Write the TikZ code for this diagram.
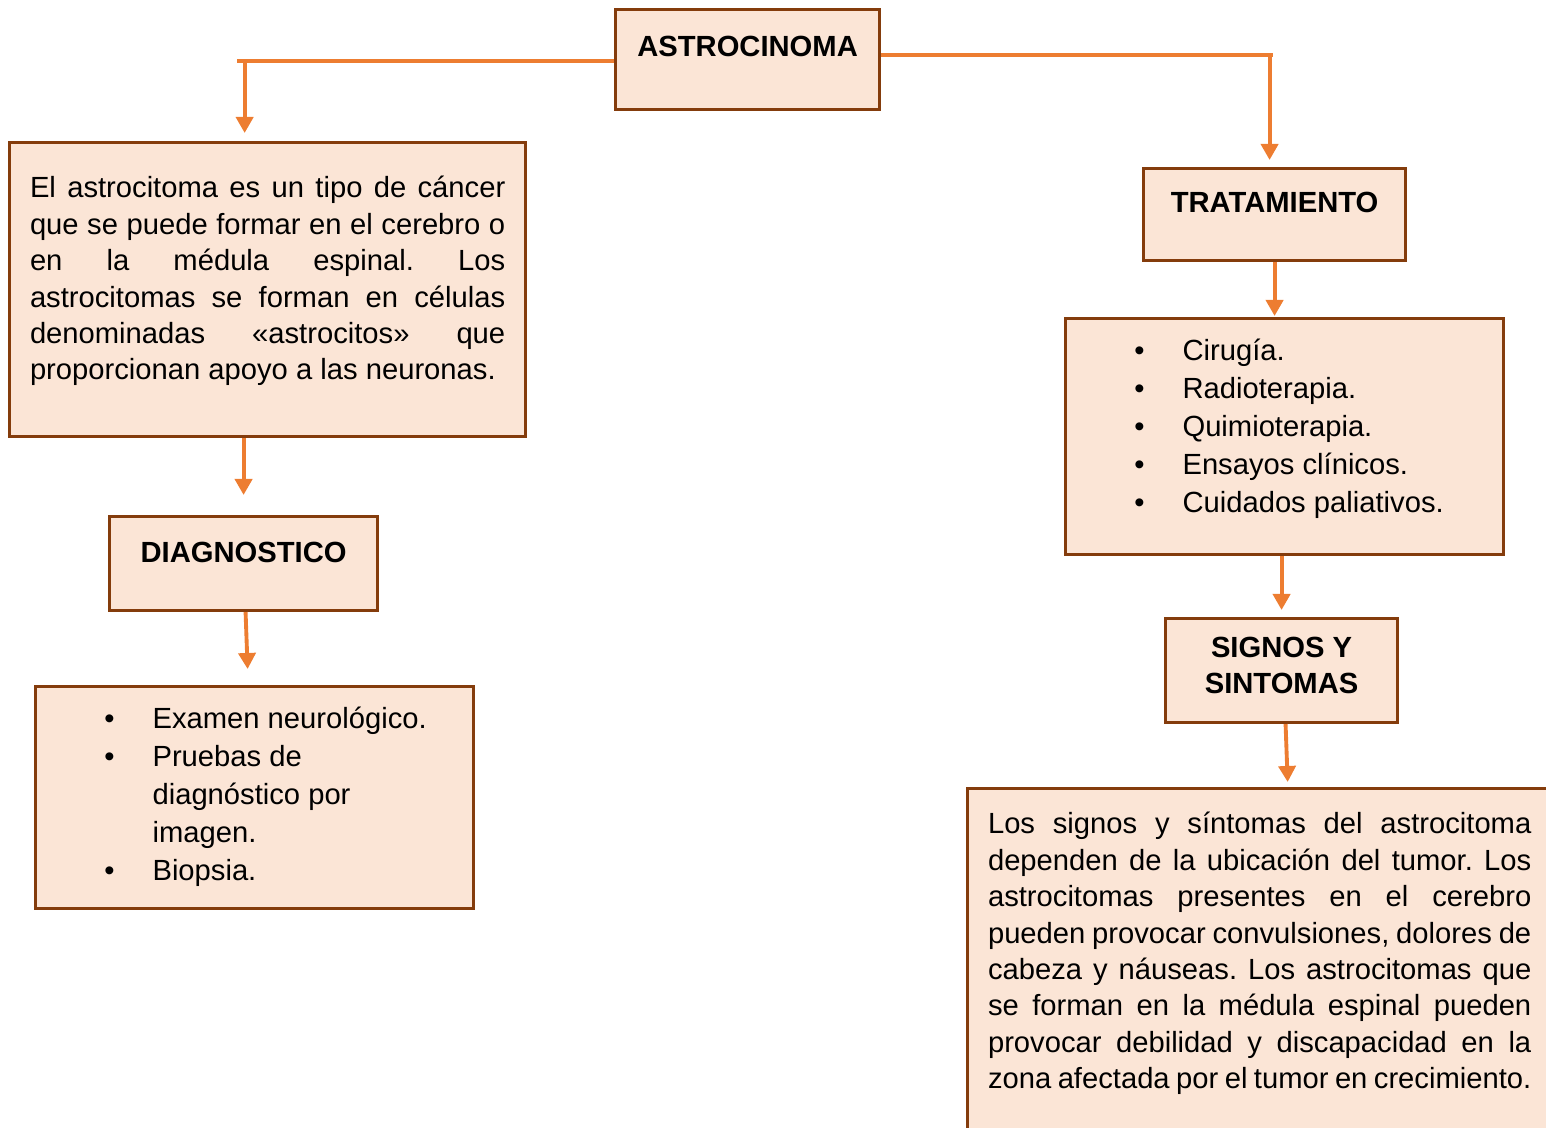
\documentclass[tikz,border=0pt]{standalone}
\usepackage{fontspec}
\setmainfont{Liberation Sans}
\usetikzlibrary{arrows.meta}
\definecolor{boxfill}{HTML}{FBE5D6}
\definecolor{boxline}{HTML}{843C0C}
\definecolor{wirec}{HTML}{ED7D31}
\frenchspacing
\newcommand{\boxbody}[3]{\parbox[t][#1][t]{#2}{#3}}
\newcommand{\bitem}[1]{\par\hangindent=1.17cm\hangafter=1\noindent\strut\hspace*{0.74cm}\makebox[0pt]{\textbullet}\hspace*{0.43cm}#1}

\begin{document}
\begin{tikzpicture}[x=0.01cm,y=-0.01cm,
    font=\fontsize{8.3}{10.35}\selectfont,
    box/.style={draw=boxline,fill=boxfill,line width=0.85pt,anchor=north west,inner sep=0pt},
    wire/.style={draw=wirec,line width=1.1pt},
    link/.style={wire,-{Triangle[length=0.16cm,width=0.17cm]}}]
		%%%%% FRAME %%%%%
		\useasboundingbox (0,0) rectangle (1546,1128);
		\clip (0,0) rectangle (1546,1128);
		
		%%%%% BOXES %%%%%
		\node[box] (astro) at (614,8) {\boxbody{1cm}{2.64cm}{\centering\vspace*{0.22cm}\strut\textbf{ASTROCINOMA}}};
		
		\node[box,inner xsep=0.205cm] (intro) at (8,141) {\boxbody{2.94cm}{4.75cm}{\tolerance=10000\vspace*{0.30cm}\strut
			El astrocitoma es un tipo de cáncer\linebreak
			que se puede formar en el cerebro o\linebreak
			en la médula espinal. Los\linebreak
			astrocitomas se forman en células\linebreak
			denominadas «astrocitos» que\linebreak
			proporcionan apoyo a las neuronas.}};
		
		\node[box] (diag) at (108,515) {\boxbody{0.94cm}{2.68cm}{\centering\vspace*{0.21cm}\strut\textbf{DIAGNOSTICO}}};
		
		\node[box] (diaglist) at (34,685) {\boxbody{2.22cm}{4.38cm}{\raggedright\fontsize{8.3}{10.75}\selectfont\vspace*{0.16cm}%
			\bitem{Examen neurológico.}%
			\bitem{Pruebas de\newline diagnóstico por\newline imagen.}%
			\bitem{Biopsia.}}};
		
		\node[box] (trat) at (1142,167) {\boxbody{0.92cm}{2.62cm}{\centering\vspace*{0.19cm}\strut\textbf{TRATAMIENTO}}};
		
		\node[box] (tratlist) at (1064,317) {\boxbody{2.36cm}{4.38cm}{\raggedright\fontsize{8.3}{10.85}\selectfont\vspace*{0.15cm}%
			\bitem{Cirugía.}%
			\bitem{Radioterapia.}%
			\bitem{Quimioterapia.}%
			\bitem{Ensayos clínicos.}%
			\bitem{Cuidados paliativos.}}};
		
		\node[box] (signos) at (1164,617) {\boxbody{1.04cm}{2.32cm}{\centering\fontsize{8.3}{10.2}\selectfont\vspace*{0.14cm}\strut\textbf{SIGNOS Y\\SINTOMAS}}};
		
		\node[box,inner xsep=0.205cm] (sint) at (966,787) {\boxbody{3.5cm}{5.43cm}{\tolerance=10000\vspace*{0.20cm}\strut
			Los signos y síntomas del astrocitoma\linebreak
			dependen de la ubicación del tumor. Los\linebreak
			astrocitomas presentes en el cerebro\linebreak
			pueden provocar convulsiones, dolores de\linebreak
			cabeza y náuseas. Los astrocitomas que\linebreak
			se forman en la médula espinal pueden\linebreak
			provocar debilidad y discapacidad en la\linebreak
			zona afectada por el tumor en crecimiento.}};
		
		%%%%% CONNECTORS %%%%%
		\coordinate (lk) at (237,61);
		\coordinate (rk) at (1273,55);
		\coordinate (ltip) at ([shift={(-23,-8)}]intro.north);
		\coordinate (rtip) at ([shift={(-5,-7)}]trat.north);
		\draw[wire] (astro.west |- lk) -- (lk);
		\draw[link] (ltip |- lk) -- (ltip);
		\draw[wire] (astro.east |- rk) -- (rk);
		\draw[link] (rtip |- rk) -- (rtip);
		
		\draw[link] (intro.south -| diag.north) -- ([shift={(0,-20)}]diag.north);
		\draw[link] ([shift={(2,0)}]diag.south) -- ([shift={(-7,-16)}]diaglist.north);
		
		\draw[link] (trat.south) -- ([shift={(0,-1)}]trat.south |- tratlist.north);
		\draw[link] (tratlist.south -| signos.north) -- ([shift={(0,-7)}]signos.north);
		\draw[link] ([shift={(4,0)}]signos.south) -- ([shift={(28,-5)}]sint.north);
		%%%%% END %%%%%
	\end{tikzpicture}
\end{document}
